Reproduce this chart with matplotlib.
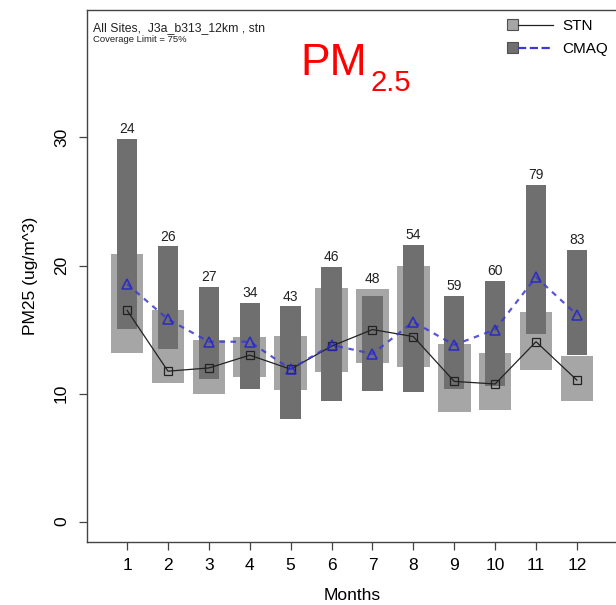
import matplotlib
matplotlib.use("Agg")
import matplotlib.pyplot as plt
from matplotlib.legend_handler import HandlerBase
from matplotlib.patches import Rectangle
from matplotlib.lines import Line2D

plt.rcParams['font.family'] = ['Liberation Sans', 'DejaVu Sans']

months = [1, 2, 3, 4, 5, 6, 7, 8, 9, 10, 11, 12]
n_sites = [24, 26, 27, 34, 43, 46, 48, 54, 59, 60, 79, 83]
# STN observed: box low/high and line value
stn_low = [13.2, 10.8, 10.0, 11.3, 10.3, 11.7, 12.4, 12.1, 8.6, 8.7, 11.85, 9.45]
stn_high = [20.9, 16.5, 14.2, 14.4, 14.5, 18.25, 18.2, 20.0, 13.9, 13.2, 16.4, 12.9]
stn_mid = [16.5, 11.75, 12.0, 13.0, 11.9, 13.7, 15.0, 14.45, 10.95, 10.75, 14.05, 11.05]
# CMAQ model: box low/high and line value
cmaq_low = [15.05, 13.5, 11.15, 10.35, 8.0, 9.45, 10.2, 10.1, 10.35, 10.6, 14.65, 13.0]
cmaq_high = [29.9, 21.5, 18.35, 17.1, 16.8, 19.9, 17.6, 21.6, 17.65, 18.8, 26.3, 21.2]
cmaq_mid = [18.55, 15.8, 14.05, 14.05, 11.9, 13.8, 13.1, 15.6, 13.8, 15.0, 19.1, 16.15]

light = '#a6a6a6'
dark = '#6f6f6f'
blue = '#3a3ad2'


class BoxLine(HandlerBase):
    def __init__(self, boxcolor):
        super().__init__()
        self.boxcolor = boxcolor

    def create_artists(self, legend, orig_handle, xdescent, ydescent,
                       width, height, fontsize, trans):
        s = height * 1.05
        x0 = -xdescent
        y0 = -ydescent + height / 2 - s / 2
        box = Rectangle((x0, y0), s, s, facecolor=self.boxcolor,
                        edgecolor='#505050', linewidth=0.8, transform=trans)
        ln = Line2D([x0 + s, x0 + width], [y0 + s / 2, y0 + s / 2],
                    color=orig_handle.get_color(),
                    linestyle=orig_handle.get_linestyle(),
                    linewidth=orig_handle.get_linewidth(), transform=trans)
        return [box, ln]


fig = plt.figure(figsize=(6.16, 6.05), dpi=100)
ax = fig.add_axes([87 / 616, 63.5 / 605, 530 / 616, 531.5 / 605])

stn_h = [h - l for h, l in zip(stn_high, stn_low)]
cmaq_h = [h - l for h, l in zip(cmaq_high, cmaq_low)]
ax.bar(months, stn_h, bottom=stn_low, width=0.8, color=light, zorder=2)
ax.bar(months, cmaq_h, bottom=cmaq_low, width=0.5, color=dark, zorder=3)

l1, = ax.plot(months, stn_mid, color='#222222', linewidth=0.9,
              marker='s', markersize=5.5, markerfacecolor='none',
              markeredgecolor='#222222', markeredgewidth=0.9, zorder=4)
l2, = ax.plot(months, cmaq_mid, color=blue, linewidth=1.6,
              linestyle=(0, (2.5, 2.5)), alpha=0.85,
              marker='^', markersize=7, markerfacecolor='none',
              markeredgecolor='#2424cc', markeredgewidth=1.2, zorder=5)

for m, n, a, b in zip(months, n_sites, stn_high, cmaq_high):
    ax.annotate(str(n), xy=(m, max(a, b)), xytext=(0, 2),
                textcoords='offset points', ha='center', va='bottom',
                fontsize=10, color='#222222')

ax.set_xlim(0.02, 12.98)
ax.set_ylim(-1.55, 39.95)
ax.set_xticks(months)
ax.set_yticks([0, 10, 20, 30])
ax.tick_params(axis='both', length=6, width=0.9, color='#444444',
               labelsize=12.5)
ax.tick_params(axis='x', pad=6)
ax.tick_params(axis='y', pad=7)
for lab in ax.get_yticklabels():
    lab.set_rotation(90)
    lab.set_va('center')
for sp in ax.spines.values():
    sp.set_color('#444444')
    sp.set_linewidth(1.0)

ax.set_xlabel('Months', fontsize=12.5)
ax.set_ylabel('PM25 (ug/m^3)', fontsize=12.5)
ax.xaxis.set_label_coords(0.5, -0.088)
ax.yaxis.set_label_coords(-0.093, 0.5)

fig.text(93 / 616, 1 - 31 / 605, 'All Sites,  J3a_b313_12km , stn',
         fontsize=8.8, va='baseline', color='#222222')
fig.text(93 / 616, 1 - 42 / 605, 'Coverage Limit = 75%',
         fontsize=6.8, va='baseline', color='#222222')

fig.text(300 / 616, 1 - 75 / 605, 'PM', fontsize=32, color='red',
         va='baseline')
fig.text(370 / 616, 1 - 91 / 605, '2.5', fontsize=21, color='red',
         va='baseline')

ax.legend([l1, l2], ['STN', 'CMAQ'],
          handler_map={l1: BoxLine(light), l2: BoxLine(dark)},
          loc='upper left', bbox_to_anchor=(507 / 616, 1 - 19 / 605),
          bbox_transform=fig.transFigure, frameon=False, fontsize=11,
          handlelength=3.0, handletextpad=0.6, labelspacing=0.6,
          borderpad=0, borderaxespad=0)

fig.savefig('out.png', dpi=100)
